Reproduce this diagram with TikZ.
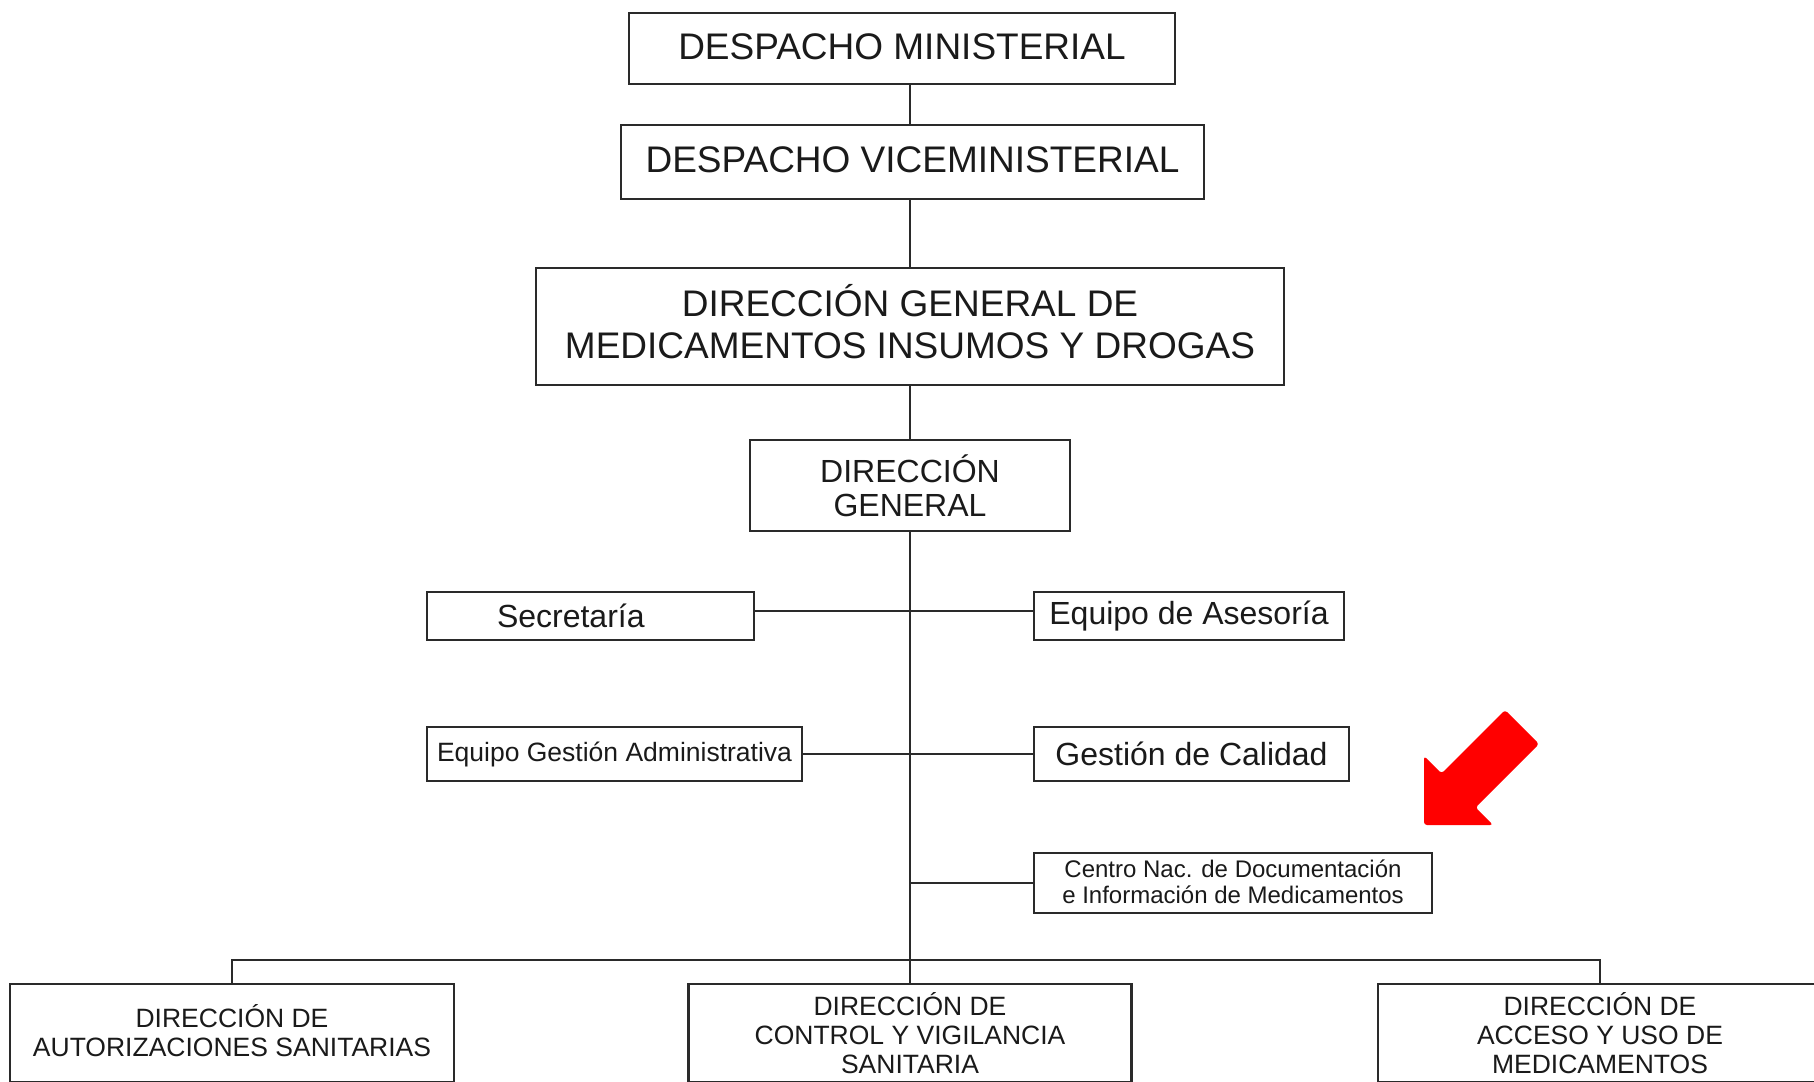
\documentclass[tikz,border=0pt]{standalone}
\usepackage{fontspec}
\setmainfont{Liberation Sans}
\definecolor{linec}{HTML}{2A2A2A}
\definecolor{textc}{HTML}{1A1A1A}
\definecolor{arrowred}{HTML}{FF0000}
\begin{document}
\begin{tikzpicture}[x=1pt,y=-1pt,
  box/.style={draw=linec, line width=2.5pt, fill=white, text=textc, inner sep=0pt, align=center},
  conn/.style={draw=linec, line width=2.5pt},
  bigf/.style={font=\fontsize{37}{42}\selectfont},
  midf/.style={font=\fontsize{32}{34}\selectfont},
  smallf/.style={font=\fontsize{26.5}{29}\selectfont},
  tinyf/.style={font=\fontsize{24}{25.5}\selectfont}]
\clip (0,0) rectangle (1814,1081);
\fill[white] (0,0) rectangle (1814,1081);

\node[box, bigf, minimum width=546pt, minimum height=71pt, text depth=4.5pt] (dm) at (902,48.5) {DESPACHO MINISTERIAL};
\node[box, bigf, minimum width=583pt, minimum height=74pt, text depth=5pt] (dv) at (912.5,162) {DESPACHO VICEMINISTERIAL};
\node[box, bigf, minimum width=748pt, minimum height=117pt, text depth=9.5pt] (dgm) at (910,326.5) {DIRECCIÓN GENERAL DE\\MEDICAMENTOS INSUMOS Y DROGAS};
\node[box, midf, minimum width=320pt, minimum height=91pt] (dg) at (910,485.5) {DIRECCIÓN\\GENERAL};

\node[box, midf, minimum height=48pt, inner xsep=70pt, text width=187pt, align=left] (sec) at (590.5,616) {Secretaría};
\node[box, midf, minimum width=310pt, minimum height=48pt] (ase) at (1189,616) {Equipo de Asesoría};
\node[box, smallf, minimum width=375pt, minimum height=54pt] (ega) at (614.5,754) {Equipo Gestión Administrativa};
\node[box, midf, minimum width=315pt, minimum height=54pt] (gc) at (1191.5,754) {Gestión de Calidad};
\node[box, tinyf, minimum width=398pt, minimum height=60pt, text depth=3pt] (cen) at (1233,883) {Centro Nac. de Documentación\\e Información de Medicamentos};

\node[box, smallf, minimum width=444pt, minimum height=98pt, text depth=5pt] (left) at (232,1033) {DIRECCIÓN DE\\AUTORIZACIONES SANITARIAS};
\node[box, smallf, minimum width=443pt, minimum height=98pt] (mid) at (910,1033) {DIRECCIÓN DE\\CONTROL Y VIGILANCIA\\SANITARIA};
\node[box, smallf, minimum width=444pt, minimum height=98pt] (right) at (1600,1033) {DIRECCIÓN DE\\ACCESO Y USO DE\\MEDICAMENTOS};

\draw[conn] (dm.south -| dg.north) -- (dv.north -| dg.north);
\draw[conn] (dv.south -| dg.north) -- (dgm.north -| dg.north);
\draw[conn] (dgm.south -| dg.north) -- (dg.north);
\draw[conn] (dg.south) -- (mid.north);
\draw[conn] ([yshift=5pt]sec.east) -- ([yshift=5pt]ase.west);
\draw[conn] (ega.east) -- (gc.west);
\draw[conn] (cen.west) -- (cen.west -| dg.south);
\coordinate (bus) at (910,960);
\draw[conn] (left.north) |- (bus) -| (right.north);

\fill[arrowred, rounded corners=3pt] (1424,825) -- (1424,756) -- (1441.5,773.5) -- (1505,710) -- (1539,744) -- (1475.5,807.5) -- (1493,825) -- cycle;
\end{tikzpicture}
\end{document}
